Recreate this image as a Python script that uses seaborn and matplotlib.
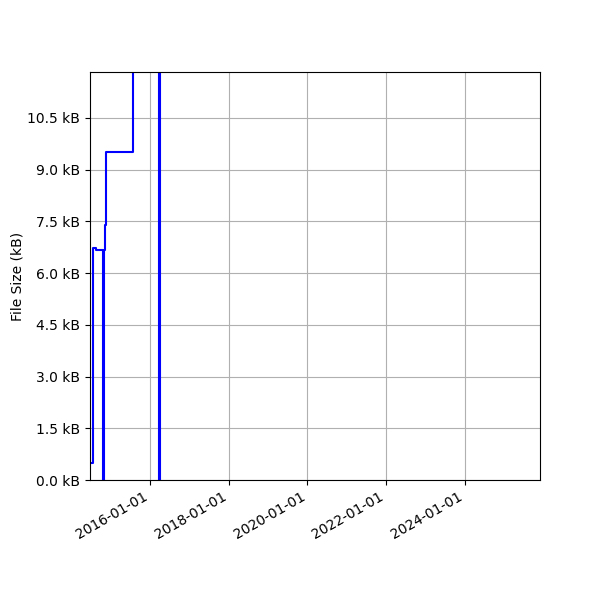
# imports

import pandas as pd
import matplotlib
matplotlib.use('Agg')
import matplotlib.pyplot as plt
import matplotlib.dates as mdates
from matplotlib.ticker import MultipleLocator, FuncFormatter
import seaborn as sns

# file size history (kB)

commit_dates = ['2014-06-22', '2014-07-19', '2014-08-15', '2014-10-19',
                '2014-10-27', '2014-11-06', '2014-11-16', '2015-07-25',
                '2016-03-26', '2016-04-04', '2025-12-02']
file_sizes = [0.49, 6.73, 6.67, 0.0, 6.67, 7.4, 9.5, 14.0, 0.0, 14.0, 14.0]

df = pd.DataFrame({'date': pd.to_datetime(commit_dates), 'size': file_sizes})

# plot

fig = plt.figure(figsize=(6, 6), dpi=100)
ax = fig.add_axes([0.15, 0.2, 0.75, 0.68])
sns.lineplot(data=df, x='date', y='size', drawstyle='steps-post',
             color='blue', linewidth=1.5, ax=ax)

ax.set_xlim(df['date'].min(), df['date'].max())
ax.set_ylim(0, 11.83)
ax.yaxis.set_major_locator(MultipleLocator(1.5))
ax.yaxis.set_major_formatter(FuncFormatter(lambda v, _: f'{v:.1f} kB'))
ax.xaxis.set_major_locator(mdates.YearLocator(2))
ax.xaxis.set_major_formatter(mdates.DateFormatter('%Y-%m-%d'))
for lbl in ax.get_xticklabels():
    lbl.set_rotation(30)
    lbl.set_ha('right')

ax.set_xlabel('')
ax.set_ylabel('File Size (kB)', labelpad=2)
ax.grid(True)

fig.savefig('out.png', dpi=100)
